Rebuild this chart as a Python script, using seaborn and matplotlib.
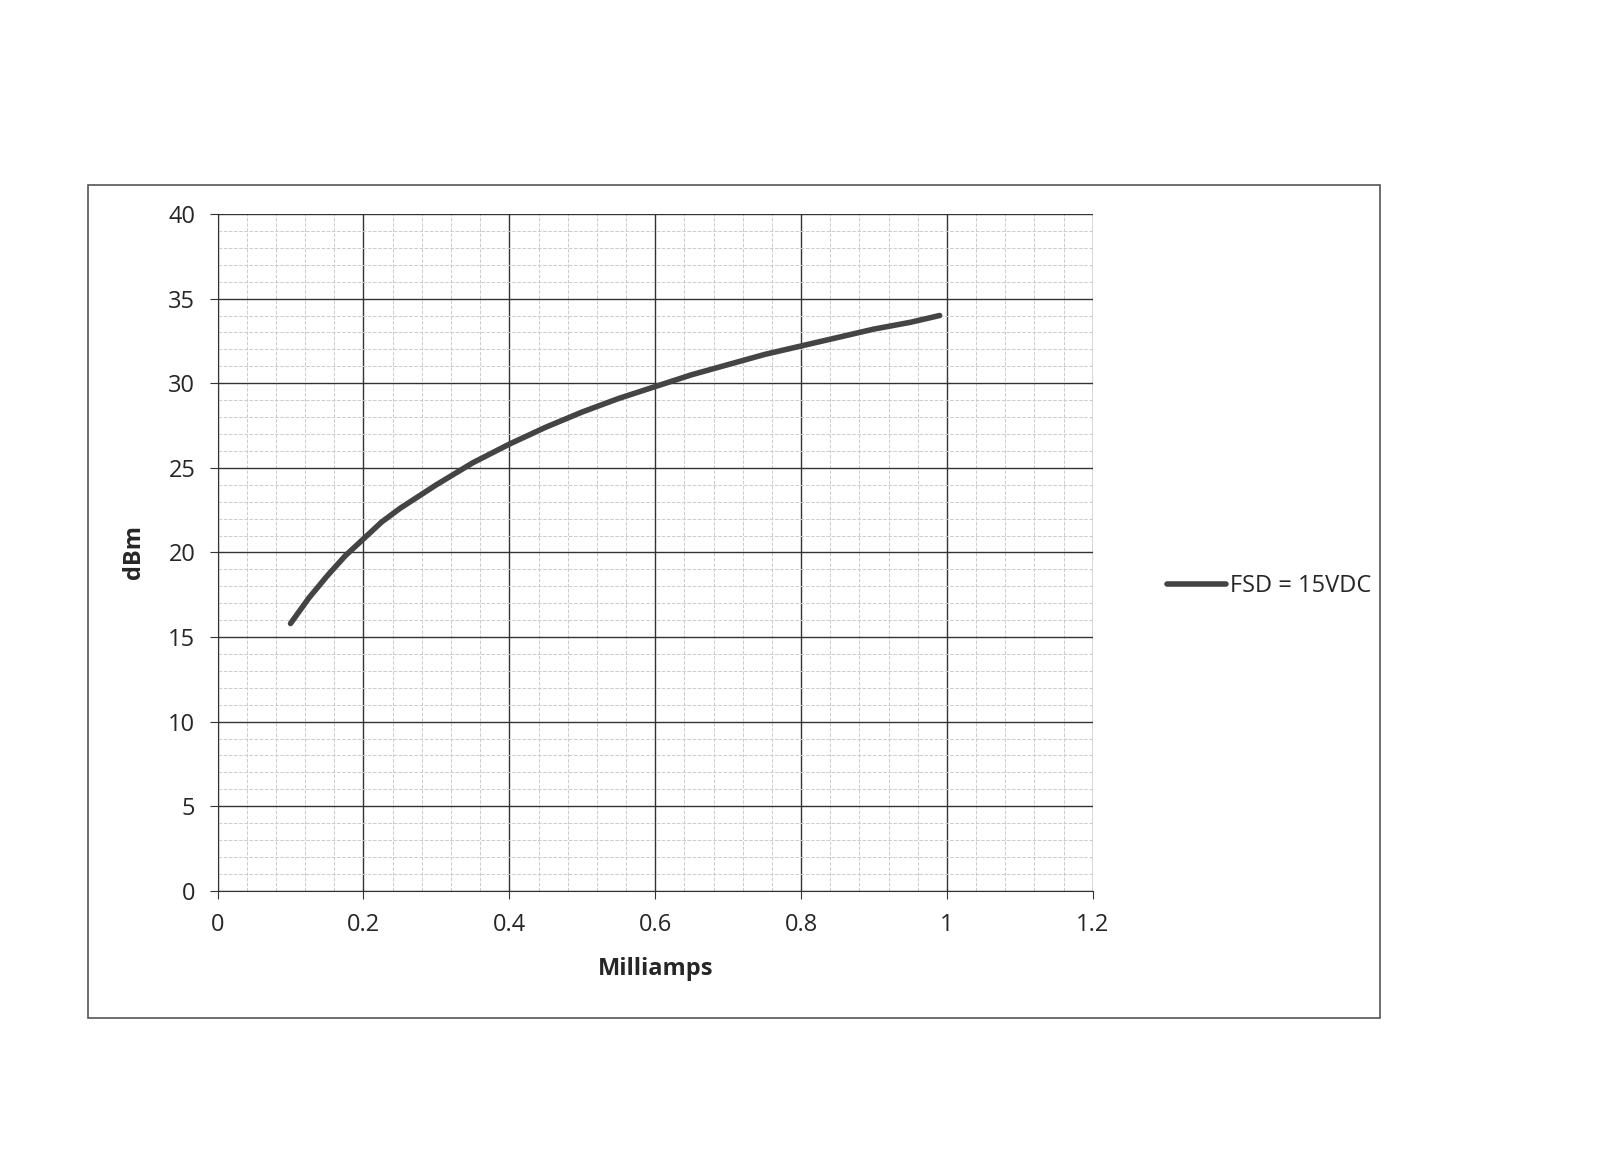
import matplotlib
matplotlib.use("Agg")
import matplotlib.pyplot as plt
import seaborn as sns
import pandas as pd
from matplotlib.patches import Rectangle
from matplotlib.ticker import MultipleLocator

milliamps = [0.1, 0.125, 0.15, 0.175, 0.2, 0.225, 0.25, 0.3, 0.35, 0.4, 0.45, 0.5, 0.55, 0.6, 0.65, 0.7, 0.75, 0.8, 0.85, 0.9, 0.95, 0.99]
dbm = [15.8, 17.3, 18.6, 19.8, 20.8, 21.8, 22.6, 24.0, 25.3, 26.4, 27.4, 28.3, 29.1, 29.8, 30.5, 31.1, 31.7, 32.2, 32.7, 33.2, 33.6, 34.0]
series_name = "FSD = 15VDC"

sns.set_style("white")
plt.rcParams['font.family'] = ['Open Sans', 'DejaVu Sans']

df = pd.DataFrame({"Milliamps": milliamps, "dBm": dbm, "series": series_name})

fig = plt.figure(figsize=(16, 11.63), dpi=100)
fig.patches.append(Rectangle((0.055, 0.125), 0.8075, 0.716, transform=fig.transFigure,
                             fill=False, edgecolor="#555555", linewidth=1.2))
ax = fig.add_axes([0.136, 0.234, 0.547, 0.582])
sns.lineplot(data=df, x="Milliamps", y="dBm", hue="series", palette=["#444444"],
             linewidth=4, ax=ax)
ax.set_xlim(0, 1.2)
ax.set_ylim(0, 40)
ax.xaxis.set_major_locator(MultipleLocator(0.2))
ax.yaxis.set_major_locator(MultipleLocator(5))
ax.xaxis.set_minor_locator(MultipleLocator(0.04))
ax.yaxis.set_minor_locator(MultipleLocator(1))
ax.grid(which="major", color="#333333", linewidth=1.0)
ax.grid(which="minor", color="#cccccc", linewidth=0.7, linestyle="--")
ax.set_xticks([0, 0.2, 0.4, 0.6, 0.8, 1.0, 1.2])
ax.set_xticklabels(["0", "0.2", "0.4", "0.6", "0.8", "1", "1.2"])
ax.tick_params(axis="both", which="major", labelsize=17, length=6, direction="out",
               bottom=True, left=True, color="#333333", pad=10)
for s in ["top", "right"]:
    ax.spines[s].set_visible(False)
for s in ["left", "bottom"]:
    ax.spines[s].set_color("#333333")
ax.set_xlabel("Milliamps", fontsize=17, fontweight="bold", labelpad=14)
ax.set_ylabel("dBm", fontsize=17, fontweight="bold", labelpad=16)
leg = ax.legend(loc="center left", bbox_to_anchor=(1.06, 0.45), frameon=False,
                fontsize=17, handlelength=2.5, handletextpad=0.2)
fig.savefig("out.png", dpi=100, facecolor="white")
